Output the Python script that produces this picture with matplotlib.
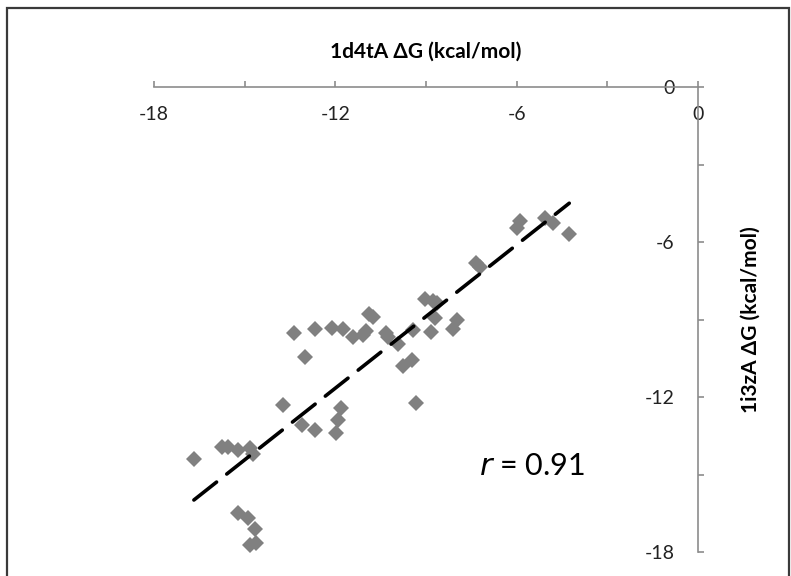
import numpy as np
import matplotlib
matplotlib.use("Agg")
import matplotlib.pyplot as plt
from matplotlib.patches import Rectangle

# values (kcal/mol)
dg_1d4ta = [-16.68, -15.75, -15.55, -15.22, -14.82, -14.72, -15.22, -14.89, -14.66, -14.82,
            -14.62, -13.73, -13.36, -13.00, -13.10, -12.67, -12.67, -12.11, -11.81, -11.91,
            -11.97, -11.74, -11.41, -11.10, -11.00, -10.90, -10.75, -10.32, -10.25, -9.92,
            -9.75, -9.46, -9.42, -9.32, -9.03, -8.76, -8.63, -8.70, -8.83, -7.97,
            -8.10, -7.35, -7.20, -6.00, -5.90, -5.05, -4.79, -4.26]
dg_1i3za = [-14.40, -13.94, -13.94, -14.05, -13.98, -14.20, -16.49, -16.69, -17.11, -17.73,
            -17.65, -12.31, -9.52, -10.45, -13.09, -13.28, -9.37, -9.33, -12.43, -12.89,
            -13.40, -9.37, -9.68, -9.60, -9.45, -8.80, -8.90, -9.52, -9.68, -9.95,
            -10.80, -10.57, -9.41, -12.23, -8.20, -8.28, -8.36, -8.94, -9.49, -9.02,
            -9.37, -6.80, -6.95, -5.45, -5.20, -5.07, -5.27, -5.69]
r_value = 0.91
tick_vals = [-18, -12, -6, 0]
minor_vals = [-15, -9, -3]

W, H = 791, 576
fig = plt.figure(figsize=(W / 100, H / 100), dpi=100)
# frame round the chart, bottom edge falls outside the picture
fig.patches.append(Rectangle((7 / W, -0.05), 782 / W, 1.05 - 8 / H, transform=fig.transFigure,
                             fill=False, edgecolor="#3a3a3a", linewidth=1.6))

ax = fig.add_axes([154 / W, 1 - 552 / H, 544 / W, 465 / H])
ax.set_xlim(-18, 0)
ax.set_ylim(-18, 0)

x = np.array(dg_1d4ta)
y = np.array(dg_1i3za)
ax.plot(x, y, linestyle="none", marker="D", markersize=8, color="#808080",
        markeredgewidth=0, zorder=3)

# linear trendline across the data range
slope, icpt = np.polyfit(x, y, 1)
xs = np.array([x.min(), x.max()])
ax.plot(xs, slope * xs + icpt, color="black", linewidth=2.6, dashes=(8, 3.6),
        solid_capstyle="round", dash_capstyle="round", zorder=4)

for s in ["left", "bottom"]:
    ax.spines[s].set_visible(False)
for s in ["top", "right"]:
    ax.spines[s].set_color("#8c8c8c")
    ax.spines[s].set_linewidth(1.2)

font = "Lato"
ax.set_xticks(tick_vals)
ax.set_xticks(minor_vals, minor=True)
ax.set_yticks(tick_vals)
ax.set_yticks(minor_vals, minor=True)
ax.tick_params(axis="x", which="both", direction="out", top=True, bottom=False,
               labeltop=True, labelbottom=False, length=4, color="#8c8c8c", width=1.2)
ax.tick_params(axis="x", which="major", pad=-30)
ax.tick_params(axis="y", which="both", direction="out", right=True, left=False,
               labelright=True, labelleft=False, length=4, color="#8c8c8c", width=1.2)
ax.tick_params(axis="y", which="major", pad=-21)
ax.set_xticklabels([str(v) for v in tick_vals], fontsize=14, family=font, color="#222222")
ax.set_yticklabels([str(v) for v in tick_vals], fontsize=14, family=font, color="#222222")
for lab in ax.get_yticklabels():
    lab.set_horizontalalignment("right")

fig.text(426 / W, 1 - 52 / H, "1d4tA ΔG (kcal/mol)", ha="center", va="center",
         fontsize=15, fontweight="bold", family=font)
fig.text(751 / W, 1 - 320 / H, "1i3zA ΔG (kcal/mol)", ha="center", va="center",
         rotation=90, fontsize=15, fontweight="bold", family=font)

ax.text(0.597, 0.186, "$\\it{r}$ = %.2f" % r_value, transform=ax.transAxes, fontsize=22,
        family=font, ha="left", va="center")

fig.savefig("out.png", dpi=100)
